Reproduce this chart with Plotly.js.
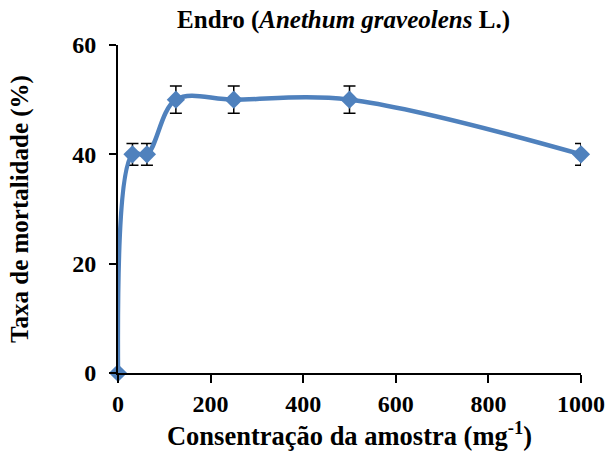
<!DOCTYPE html>
<html>
<head>
<meta charset="utf-8">
<script src="https://cdn.plot.ly/plotly-3.0.1.min.js"></script>
<style>html,body{margin:0;padding:0;background:#fff;}#chart{width:608px;height:459px;}</style>
</head>
<body>
<div id="chart"></div>
<script>
var concentrations = [0, 31.25, 62.5, 125, 250, 500, 1000];
var mortality = [0, 40, 40, 50, 50, 50, 40];
var errors = [0, 2, 2, 2.5, 2.5, 2.5, 2];
var xTicks = [0, 200, 400, 600, 800, 1000];
var yTicks = [0, 20, 40, 60];

var font = 'Liberation Serif';
var trace = {
  x: concentrations,
  y: mortality,
  type: 'scatter',
  mode: 'lines+markers',
  line: {color: '#4F81BD', width: 4.5, shape: 'spline', smoothing: 1},
  marker: {symbol: 'diamond', size: 14, color: '#4F81BD'},
  error_y: {type: 'data', array: errors, visible: true, color: '#000', thickness: 1.5, width: 6},
  cliponaxis: false,
  hoverinfo: 'none'
};
var layout = {
  width: 608, height: 459,
  margin: {l: 118, r: 27, t: 45, b: 86},
  paper_bgcolor: '#fff', plot_bgcolor: '#fff',
  showlegend: false,
  font: {family: font, color: '#000'},
  title: {text: '<b>Endro (<i>Anethum graveolens</i> L.)</b>', font: {family: font, size: 25, color: '#000'}, x: 0.565, xanchor: 'center', y: 0.978, yanchor: 'top'},
  xaxis: {
    range: [0, 1000], tickvals: xTicks, ticktext: xTicks.map(String),
    showgrid: false, zeroline: false, showline: true, linecolor: '#000', linewidth: 2,
    ticks: 'outside', ticklen: 8, tickwidth: 2, tickcolor: '#000',
    tickfont: {family: font, size: 24, color: '#000', weight: 700},
    title: {text: '<b>Consentração da amostra (mg<sup>-1</sup>)</b>', font: {family: font, size: 26.5, color: '#000'}, standoff: 9}
  },
  yaxis: {
    range: [0, 60], tickvals: yTicks, ticktext: yTicks.map(String),
    showgrid: false, zeroline: false, showline: true, linecolor: '#000', linewidth: 2,
    ticks: 'outside', ticklen: 7, tickwidth: 2, tickcolor: '#000', ticklabelstandoff: 8,
    tickfont: {family: font, size: 24, color: '#000', weight: 700},
    title: {text: '<b>Taxa de mortalidade (%)</b>', font: {family: font, size: 25, color: '#000'}, standoff: 36}
  }
};
Plotly.newPlot('chart', [trace], layout, {displayModeBar: false, staticPlot: true});
</script>
</body>
</html>
